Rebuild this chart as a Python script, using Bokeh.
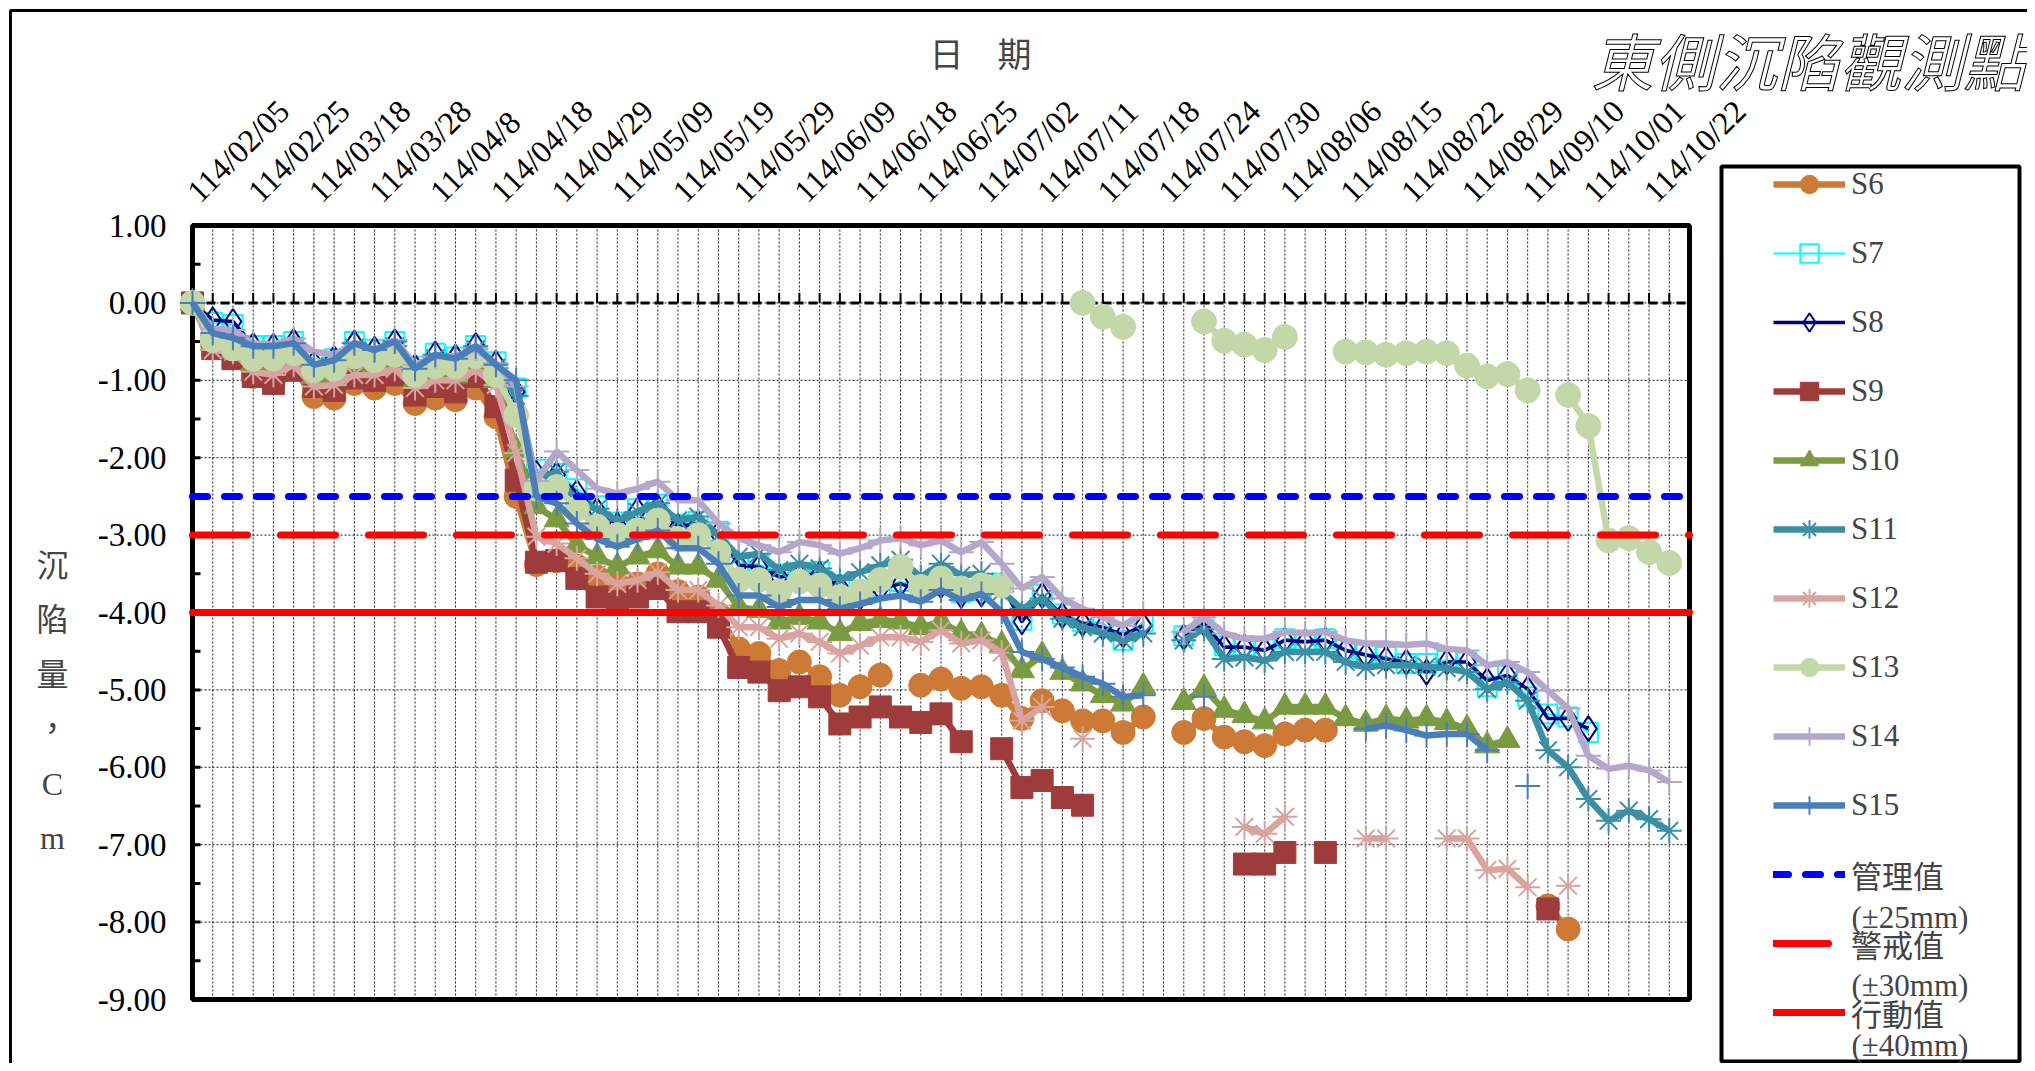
from math import pi, nan

from bokeh.plotting import figure
from bokeh.models import Legend, LegendItem, Label, Range1d
from bokeh.core.properties import value
from bokeh.embed import file_html
from bokeh.resources import INLINE

# x axis: one category per survey date, a label on every third one
date_labels = ["114/02/05", "114/02/25", "114/03/18", "114/03/28", "114/04/8",
               "114/04/18", "114/04/29", "114/05/09", "114/05/19", "114/05/29",
               "114/06/09", "114/06/18", "114/06/25", "114/07/02", "114/07/11",
               "114/07/18", "114/07/24", "114/07/30", "114/08/06", "114/08/15",
               "114/08/22", "114/08/29", "114/09/10", "114/10/01", "114/10/22"]
n_dates = 75
y_ticks = [1, 0, -1, -2, -3, -4, -5, -6, -7, -8, -9]

# settlement readings (cm), nan = no reading that day
s6 = [0, -0.55, -0.62, -0.95, -1.00, -0.85, -1.21, -1.23, -1.04, -1.10,
      -1.04, -1.30, -1.23, -1.25, -1.10, -1.47, -2.50, -3.38, -3.33, -3.40,
      -3.54, -3.63, -3.63, -3.50, -3.73, -3.80, -4.02, -4.47, -4.53, -4.75,
      -4.64, -4.83, -5.07, -4.96, -4.81, nan, -4.94, -4.86, -4.98, -4.96,
      -5.07, -5.37, -5.14, -5.27, -5.40, -5.40, -5.55, -5.35, nan, -5.55,
      -5.37, -5.61, -5.67, -5.72, -5.57, -5.52, -5.52, nan, nan, nan,
      nan, nan, nan, nan, nan, nan, nan, -7.79, -8.09, nan,
      nan, nan, nan, nan]
s7 = [0, -0.25, -0.28, -0.55, -0.55, -0.50, -0.76, -0.72, -0.50, -0.60,
      -0.50, -0.82, -0.65, -0.70, -0.55, -0.76, -1.10, -2.15, -2.20, -2.40,
      -2.62, -2.83, -2.66, -2.60, -2.86, -2.82, -2.95, -3.36, -3.38, -3.50,
      -3.48, -3.47, -3.64, -3.76, -3.66, -3.60, -3.68, -3.62, -3.74, -3.72,
      -3.62, -4.10, -3.76, -4.02, -4.12, -4.14, -4.36, -4.12, nan, -4.30,
      -4.12, -4.43, -4.43, -4.47, -4.34, -4.36, -4.34, -4.47, -4.53, -4.57,
      -4.66, -4.66, -4.62, -4.64, -4.96, -4.81, -5.09, -5.31, -5.35, -5.55,
      nan, nan, nan, nan]
s8 = [0, -0.22, -0.24, -0.55, -0.56, -0.50, -0.78, -0.72, -0.52, -0.60,
      -0.50, -0.83, -0.66, -0.70, -0.55, -0.78, -1.15, -2.20, -2.22, -2.45,
      -2.68, -2.87, -2.68, -2.64, -2.89, -2.85, -2.98, -3.39, -3.41, -3.54,
      -3.52, -3.50, -3.67, -3.80, -3.69, -3.63, -3.71, -3.65, -3.78, -3.76,
      -3.65, -4.12, -3.78, -4.04, -4.14, -4.19, -4.29, -4.17, nan, -4.32,
      -4.14, -4.45, -4.45, -4.49, -4.36, -4.38, -4.36, -4.49, -4.55, -4.60,
      -4.64, -4.77, -4.64, -4.64, -4.88, -4.81, -4.99, -5.37, -5.37, -5.50,
      nan, nan, nan, nan]
s9 = [0, -0.59, -0.72, -0.95, -1.04, -0.87, -1.08, -1.13, -0.97, -1.00,
      -0.93, -1.19, -1.08, -1.15, -0.95, -1.34, -2.29, -3.35, -3.33, -3.56,
      -3.80, -3.86, -3.80, -3.69, -3.99, -3.99, -4.19, -4.71, -4.77, -5.01,
      -4.96, -5.09, -5.44, -5.35, -5.22, -5.35, -5.42, -5.31, -5.67, nan,
      -5.76, -6.26, -6.17, -6.39, -6.49, nan, nan, nan, nan, nan,
      nan, nan, -7.25, -7.25, -7.10, nan, -7.10, nan, nan, nan,
      nan, nan, nan, nan, nan, nan, nan, -7.83, nan, nan,
      nan, nan, nan, nan]
s10 = [0, -0.52, -0.62, -0.78, -0.80, -0.70, -0.95, -0.98, -0.78, -0.82,
       -0.74, -1.00, -0.92, -0.94, -0.78, -1.00, -1.90, -2.63, -2.80, -3.13,
       -3.28, -3.41, -3.28, -3.20, -3.41, -3.41, -3.58, -3.93, -3.97, -4.12,
       -4.06, -4.12, -4.27, -4.14, -4.10, -4.12, -4.19, -4.12, -4.27, -4.30,
       -4.42, -4.75, -4.55, -4.77, -4.92, -5.07, -5.18, -4.96, nan, -5.16,
       -4.98, -5.26, -5.33, -5.41, -5.22, -5.22, -5.22, -5.37, -5.44, -5.37,
       -5.40, -5.37, -5.42, -5.50, -5.72, -5.65, nan, nan, nan, nan,
       nan, nan, nan, nan]
s11 = [0, -0.42, -0.50, -0.62, -0.62, -0.56, -0.82, -0.78, -0.58, -0.66,
       -0.56, -0.88, -0.72, -0.76, -0.60, -0.84, -1.20, -2.30, -2.18, -2.59,
       -2.66, -2.81, -2.70, -2.59, -2.81, -2.76, -3.00, -3.28, -3.24, -3.45,
       -3.37, -3.43, -3.58, -3.48, -3.39, -3.32, -3.54, -3.37, -3.52, -3.50,
       -3.73, -3.95, -3.82, -4.08, -4.19, -4.27, -4.36, -4.27, nan, -4.36,
       -4.21, -4.60, -4.58, -4.62, -4.51, -4.51, -4.51, -4.64, -4.71, -4.68,
       -4.68, -4.70, -4.72, -4.77, -4.99, -4.90, -5.14, -5.78, -6.00, -6.41,
       -6.69, -6.56, -6.67, -6.82]
s12 = [0, -0.61, -0.63, -0.89, -0.93, -0.80, -1.08, -1.06, -0.93, -0.93,
       -0.85, -1.10, -1.00, -1.00, -0.87, -1.06, -1.94, -3.02, -3.11, -3.30,
       -3.50, -3.63, -3.58, -3.48, -3.71, -3.71, -3.91, -4.19, -4.19, -4.34,
       -4.27, -4.38, -4.53, -4.43, -4.32, -4.32, -4.38, -4.23, -4.40, -4.36,
       -4.52, -5.40, -5.22, nan, -5.63, nan, nan, nan, nan, nan,
       nan, nan, -6.77, -6.86, -6.64, nan, nan, nan, -6.92, -6.92,
       nan, nan, -6.92, -6.92, -7.33, -7.31, -7.55, nan, -7.53, nan,
       nan, nan, nan, nan]
s13 = [0, -0.48, -0.59, -0.72, -0.72, -0.65, -0.87, -0.85, -0.69, -0.74,
       -0.67, -0.93, -0.82, -0.82, -0.69, -0.93, -1.45, -2.40, -2.38, -2.66,
       -2.89, -3.00, -2.94, -2.81, -3.05, -3.00, -3.22, -3.58, -3.58, -3.73,
       -3.60, -3.65, -3.80, -3.73, -3.58, -3.41, -3.67, -3.56, -3.69, -3.65,
       -3.65, nan, nan, nan, 0.00, -0.18, -0.31, nan, nan, nan,
       -0.24, -0.49, -0.54, -0.61, -0.44, nan, nan, -0.63, -0.64, -0.67,
       -0.65, -0.63, -0.65, -0.81, -0.95, -0.92, -1.13, nan, -1.19, -1.59,
       -3.07, -3.04, -3.22, -3.36]
s14 = [0, -0.33, -0.35, -0.52, -0.54, -0.46, -0.63, -0.67, -0.52, -0.61,
       -0.48, -0.80, -0.69, -0.69, -0.59, -0.78, -1.08, -2.30, -1.92, -2.16,
       -2.40, -2.46, -2.40, -2.31, -2.55, -2.55, -2.85, -3.04, -3.13, -3.22,
       -3.09, -3.13, -3.24, -3.17, -3.07, -3.04, -3.13, -3.07, -3.22, -3.09,
       -3.37, -3.69, -3.54, -3.82, -3.95, -4.06, -4.17, -4.01, nan, -4.25,
       -4.06, -4.27, -4.34, -4.34, -4.25, -4.27, -4.25, -4.36, -4.40, -4.40,
       -4.42, -4.40, -4.47, -4.49, -4.68, -4.64, -4.77, -5.01, -5.24, -5.85,
       -6.02, -5.98, -6.04, -6.19]
s15 = [0, -0.39, -0.45, -0.56, -0.56, -0.52, -0.80, -0.74, -0.52, -0.61,
       -0.50, -0.85, -0.67, -0.72, -0.56, -0.80, -1.00, -2.50, -2.59, -2.85,
       -3.05, -3.15, -3.05, -2.94, -3.17, -3.17, -3.37, -3.78, -3.78, -3.93,
       -3.84, -3.84, -3.95, -3.89, -3.82, -3.78, -3.86, -3.71, -3.84, -3.76,
       -3.99, -4.51, -4.60, -4.71, -4.83, -4.92, -5.09, -5.07, nan, nan,
       -5.09, nan, nan, nan, nan, nan, nan, nan, -5.50, -5.46,
       -5.52, -5.59, -5.57, -5.57, -5.78, nan, -6.24, nan, nan, nan,
       nan, nan, nan, nan]

series_names = ["S6", "S7", "S8", "S9", "S10", "S11", "S12", "S13", "S14", "S15"]
series_values = [s6, s7, s8, s9, s10, s11, s12, s13, s14, s15]

# alert levels (cm)
limit_values = [-2.5, -3.0, -4.0]
limit_names = ["管理值", "警戒值", "行動值"]
limit_notes = ["(±25mm)", "(±30mm)", "(±40mm)"]

# look of each series: colour, marker, marker size, line width, filled marker?
looks = [
    ("#CC7A36", "circle", 24, 6.5, True),
    ("#00FFFF", "square", 19, 2, False),
    ("#000080", "diamond", 25, 3.5, False),
    ("#9E3B3B", "square", 22, 6.5, True),
    ("#7B9B41", "triangle", 25, 6.5, True),
    ("#3B8EA3", "asterisk", 25, 6.5, False),
    ("#D9A3A0", "asterisk", 25, 6.5, False),
    ("#C4D7A8", "circle", 25, 6.5, True),
    ("#B4A7C9", "cross", 25, 6.5, False),
    ("#4A7EBB", "cross", 25, 6.5, False),
]
limit_looks = [("#0000FF", "15 17"), ("#FF0000", "55 33"), ("#FF0000", "solid")]

serif = "Liberation Serif"
cjk = "Noto Sans CJK TC"
mixed = "Liberation Serif, Noto Sans CJK TC"

# canvas and where the plot area sits on it (pixels)
W, H = 2027, 1063
L, T, PW, PH = 192, 225, 1497, 774
x_lo, x_hi = 0, n_dates - 1
y_lo, y_hi = -9, 1
ppx = PW / (x_hi - x_lo)
ppy = PH / (y_hi - y_lo)

x_range = Range1d(x_lo - L / ppx, x_lo + (W - L) / ppx)
y_range = Range1d(y_hi - (H - T) / ppy, y_hi + T / ppy)


def px_x(sx):
    return x_range.start + sx / ppx


def px_y(sy):
    return y_range.end - sy / ppy


p = figure(width=W, height=H, output_backend="svg", toolbar_location=None,
           x_range=x_range, y_range=y_range, x_axis_location=None,
           y_axis_location=None, min_border=0)
p.background_fill_color = "white"
p.border_fill_color = "white"
p.outline_line_color = None
for g in p.grid:
    g.visible = False

cats = list(range(n_dates))

# dotted grid
p.segment(x0=cats, y0=[y_lo] * n_dates, x1=cats, y1=[y_hi] * n_dates,
          line_color="black", line_width=1, line_dash="2 2", line_alpha=0.9)
p.segment(x0=[x_lo] * len(y_ticks), y0=y_ticks, x1=[x_hi] * len(y_ticks), y1=y_ticks,
          line_color="black", line_width=1, line_dash="2 2", line_alpha=0.9)

# plot-area frame and left axis ticks (inside), major and half steps
p.quad(left=[x_lo], right=[x_hi], bottom=[y_lo], top=[y_hi], fill_color=None,
       line_color="black", line_width=5)
half = [y_lo + 0.5 * k for k in range(int((y_hi - y_lo) * 2) + 1)]
p.segment(x0=[x_lo] * len(half), y0=half, x1=[x_lo + 8 / ppx] * len(half), y1=half,
          line_color="black", line_width=3)
p.text(x=[x_lo - 26 / ppx] * len(y_ticks), y=y_ticks,
       text=["%.2f" % v for v in y_ticks], text_font=value(serif),
       text_font_size="33px", text_align="right", text_baseline="middle",
       text_color="black")

# category axis on the zero line, labels on top
p.line([x_lo, x_hi], [0, 0], line_color="black", line_width=3, line_dash="9 5")
p.segment(x0=cats, y0=[0] * n_dates, x1=cats, y1=[10 / ppy] * n_dates,
          line_color="black", line_width=2)
tick_pos = list(range(0, n_dates, 3))[:len(date_labels)]
p.text(x=tick_pos, y=[y_hi + 29 / ppy] * len(tick_pos),
       text=date_labels, angle=pi / 4, text_font=value(serif), text_font_size="32px",
       text_align="left", text_baseline="middle", text_color="black")

items = []
for name, vals, (col, mk, sz, lw, filled) in zip(series_names, series_values, looks):
    xs = list(range(len(vals)))
    lr = p.line(xs, vals, line_color=col, line_width=lw)
    sr = p.scatter(xs, vals, marker=mk, size=sz, line_color=col,
                   fill_color=col if filled else None,
                   line_width=1 if filled else 2)
    items.append(LegendItem(label=name, renderers=[lr, sr]))

for val, name, (col, dash) in zip(limit_values, limit_names, limit_looks):
    r = p.line([x_lo, x_hi], [val, val], line_color=col, line_width=7,
               line_dash=dash, line_cap="round")
    items.append(LegendItem(label=name, renderers=[r]))

# outer chart border (runs off the right and bottom of the page)
p.quad(left=[px_x(10)], right=[px_x(W + 40)], top=[px_y(10)], bottom=[px_y(H + 40)],
       fill_color=None, line_color="black", line_width=3)

# legend frame
p.quad(left=[px_x(1721)], right=[px_x(2019)], top=[px_y(166)], bottom=[px_y(1061)],
       fill_color=None, line_color="black", line_width=4)

row_h, row_gap = 46, 23
leg_top = 184 - row_h // 2
leg_h = len(items) * row_h + (len(items) - 1) * row_gap
legend = Legend(items=items, location=(1773, H - leg_top - leg_h), padding=0, margin=0,
                spacing=row_gap, glyph_height=row_h, glyph_width=72, label_height=row_h,
                label_standoff=6, label_text_font=mixed, label_text_font_size="31px",
                border_line_alpha=0, background_fill_alpha=0)
p.add_layout(legend)

for note, cy in zip(limit_notes, [917, 985, 1045]):
    p.add_layout(Label(x=1851, y=H - cy, x_units="screen", y_units="screen",
                       text=note, text_font=serif, text_font_size="31px",
                       text_align="left", text_baseline="middle"))

# axis titles
for k, ch in enumerate(["沉", "陷", "量", "，", "C", "m"]):
    p.add_layout(Label(x=52, y=H - (565 + 54.5 * k), x_units="screen", y_units="screen",
                       text=ch, text_font=mixed, text_font_size="32px",
                       text_align="center", text_baseline="middle"))

p.add_layout(Label(x=980, y=H - 52, x_units="screen", y_units="screen",
                   text="日　期", text_font=cjk, text_font_size="34px",
                   text_align="center", text_baseline="middle"))

p.add_layout(Label(x=2025, y=H - 58, x_units="screen", y_units="screen",
                   text="東側沉陷觀測點", text_font=cjk, text_font_size="62px",
                   text_font_style="italic", text_color="white",
                   text_outline_color="black", text_align="right",
                   text_baseline="middle"))

open("out.html", "w").write(file_html(p, INLINE))
